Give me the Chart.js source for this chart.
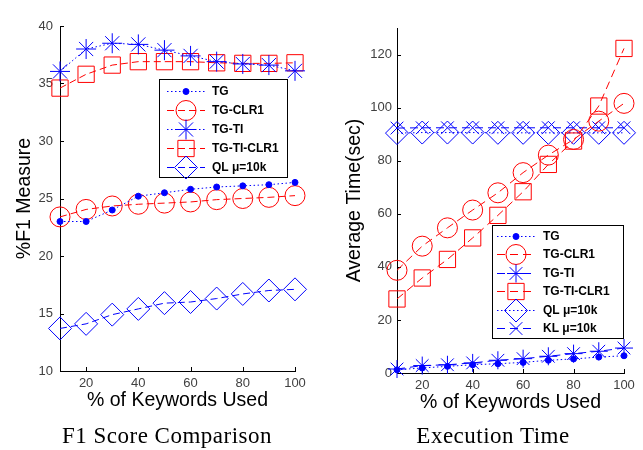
<!DOCTYPE html>
<html><head><meta charset="utf-8">
<script src="https://cdn.jsdelivr.net/npm/chart.js@4.4.1/dist/chart.umd.min.js"></script>
<style>
html,body{margin:0;padding:0;background:#fff;}
#wrap{position:relative;width:643px;height:450px;overflow:hidden;background:#fff;}
canvas{position:absolute;top:0;}
#c1{left:0}
#c2{left:321px}
.cap{position:absolute;top:424px;font-family:'Liberation Serif',serif;font-size:23px;line-height:23px;letter-spacing:0.5px;white-space:nowrap;transform:translateX(-50%);color:#000}
</style></head>
<body><div id="wrap">
<canvas id="c1" width="321" height="450"></canvas>
<canvas id="c2" width="322" height="450"></canvas>
<div class="cap" style="left:167px">F1 Score Comparison</div>
<div class="cap" style="left:493px">Execution Time</div>
</div>
<script>
// ---- data ----
const keywordsPct = [10, 20, 30, 40, 50, 60, 70, 80, 90, 100];
const xTickValues = [20, 40, 60, 80, 100];
const f1TickValues = [10, 15, 20, 25, 30, 35, 40];
const timeTickValues = [0, 20, 40, 60, 80, 100, 120];

const f1TG       = [23.0, 23.0, 24.0, 25.2, 25.5, 25.8, 26.0, 26.1, 26.2, 26.4];
const f1TGCLR1   = [23.4, 24.05, 24.35, 24.5, 24.6, 24.7, 24.9, 25.0, 25.1, 25.25];
const f1TGTI     = [36.05, 38.0, 38.5, 38.4, 37.9, 37.4, 36.9, 36.7, 36.6, 36.1];
const f1TGTICLR1 = [34.6, 35.8, 36.6, 36.9, 36.9, 36.9, 36.8, 36.75, 36.75, 36.8];
const f1QL       = [13.7, 14.1, 14.9, 15.4, 15.9, 16.0, 16.3, 16.7, 17.0, 17.1];

const timeTG       = [1.2, 1.9, 2.5, 3.1, 3.5, 4.0, 4.8, 5.3, 6.0, 6.5];
const timeTGCLR1   = [38.7, 47.8, 54.7, 61.4, 67.9, 75.5, 82.1, 88.0, 94.9, 101.6];
const timeTGTI     = [1.5, 2.8, 3.1, 3.8, 4.8, 5.4, 6.3, 7.3, 8.2, 9.4];
const timeTGTICLR1 = [27.9, 35.8, 42.8, 50.9, 59.4, 68.3, 78.6, 87.4, 100.6, 122.3];
const timeQL       = [90.4, 90.6, 90.6, 90.6, 90.5, 90.5, 90.5, 90.5, 90.5, 90.5];
const timeKL       = [92.3, 92.4, 92.4, 92.4, 92.4, 92.4, 92.4, 92.4, 92.4, 92.4];

// ---- styles ----
Chart.defaults.font.family = "'Liberation Sans', Arial, sans-serif";
const BLUE = '#0000ff', RED = '#ff0000';
const DOT = [1.5, 2.5], DASH = [7, 4], LDASH = [8, 5];

function pts(arr) { return keywordsPct.map((x, i) => ({x: x, y: arr[i]})); }
function series(label, arr, color, dash, style, radius, filled) {
  return {
    label: label, data: pts(arr), borderColor: color, borderWidth: 1, borderDash: dash,
    pointStyle: style, pointRadius: radius, pointHoverRadius: radius,
    pointBorderColor: color, pointBorderWidth: 1,
    pointBackgroundColor: filled ? color : 'rgba(0,0,0,0)',
    fill: false, tension: 0, clip: false
  };
}

function drawMarker(ctx, style, r, x, y, color, fillColor) {
  ctx.save();
  ctx.setLineDash([]);
  ctx.strokeStyle = color; ctx.fillStyle = fillColor; ctx.lineWidth = 1;
  ctx.beginPath();
  const d = r * Math.SQRT1_2;
  if (style === 'circle') { ctx.arc(x, y, r, 0, Math.PI * 2); ctx.closePath(); ctx.fill(); }
  else if (style === 'rect') { ctx.rect(x - d, y - d, 2 * d, 2 * d); ctx.fill(); }
  else if (style === 'rectRot') { ctx.moveTo(x - r, y); ctx.lineTo(x, y - r); ctx.lineTo(x + r, y); ctx.lineTo(x, y + r); ctx.closePath(); ctx.fill(); }
  else if (style === 'star') {
    ctx.moveTo(x, y - r); ctx.lineTo(x, y + r); ctx.moveTo(x - r, y); ctx.lineTo(x + r, y);
    ctx.moveTo(x - d, y - d); ctx.lineTo(x + d, y + d); ctx.moveTo(x - d, y + d); ctx.lineTo(x + d, y - d);
  } else if (style === 'crossRot') {
    ctx.moveTo(x - d, y - d); ctx.lineTo(x + d, y + d); ctx.moveTo(x - d, y + d); ctx.lineTo(x + d, y - d);
  }
  ctx.stroke();
  ctx.restore();
}

const inwardTicks = {
  id: 'inwardTicks',
  beforeDatasetsDraw(chart) {
    const ctx = chart.ctx, a = chart.chartArea, L = 4;
    ctx.save();
    ctx.strokeStyle = '#000'; ctx.lineWidth = 1;
    ctx.beginPath();
    chart.scales.x.ticks.forEach(t => {
      const px = Math.round(chart.scales.x.getPixelForValue(t.value)) + 0.5;
      ctx.moveTo(px, a.bottom); ctx.lineTo(px, a.bottom - L);
    });
    chart.scales.y.ticks.forEach(t => {
      const py = Math.round(chart.scales.y.getPixelForValue(t.value)) + 0.5;
      ctx.moveTo(a.left, py); ctx.lineTo(a.left + L, py);
    });
    ctx.stroke();
    ctx.restore();
  }
};

const boxLegend = {
  id: 'boxLegend',
  afterDraw(chart, args, o) {
    if (!o || !o.box) return;
    const ctx = chart.ctx, b = o.box;
    ctx.save();
    ctx.fillStyle = '#fff';
    ctx.fillRect(b.x, b.y, b.w, b.h);
    ctx.strokeStyle = '#000'; ctx.lineWidth = 1;
    ctx.strokeRect(b.x + 0.5, b.y + 0.5, b.w, b.h);
    chart.data.datasets.forEach((ds, i) => {
      const y = Math.round(o.rowY + i * o.rowStep) + 0.5;
      ctx.strokeStyle = ds.borderColor; ctx.lineWidth = 1;
      ctx.setLineDash(ds.borderDash || []);
      ctx.beginPath(); ctx.moveTo(o.lineX0, y); ctx.lineTo(o.lineX1, y); ctx.stroke();
      ctx.setLineDash([]);
      drawMarker(ctx, ds.pointStyle, ds.pointRadius, (o.lineX0 + o.lineX1) / 2, y, ds.pointBorderColor, ds.pointBackgroundColor);
      ctx.fillStyle = '#000';
      ctx.font = "bold 12px 'Liberation Sans', Arial, sans-serif";
      ctx.textBaseline = 'middle'; ctx.textAlign = 'left';
      ctx.fillText(ds.label, o.textX, y);
    });
    ctx.restore();
  }
};

function makeChart(id, datasets, o) {
  return new Chart(document.getElementById(id), {
    type: 'line',
    data: {datasets: datasets},
    options: {
      responsive: false, maintainAspectRatio: false, animation: false,
      events: [],
      layout: {padding: {left: 0, top: o.top, right: o.right, bottom: o.bottom}},
      plugins: {legend: {display: false}, tooltip: {enabled: false}, boxLegend: o.legend},
      scales: {
        x: {
          type: 'linear', min: 10, max: 100,
          grid: {display: false, drawTicks: false},
          border: {display: true, color: '#000', width: 1},
          afterBuildTicks: s => { s.ticks = xTickValues.map(v => ({value: v})); },
          afterFit: s => { s.height = 41; },
          ticks: {color: '#404040', font: {size: 13}, padding: 5, maxRotation: 0, autoSkip: false},
          title: {display: true, text: '% of Keywords Used', color: '#000',
                  font: {size: 19.5, lineHeight: 1.2}, padding: {top: 0, bottom: 0}}
        },
        y: {
          type: 'linear', min: o.ymin, max: o.ymax,
          grid: {display: false, drawTicks: false},
          border: {display: true, color: '#000', width: 1},
          afterBuildTicks: s => { s.ticks = o.yticks.map(v => ({value: v})); },
          afterFit: s => { s.width = o.yw; },
          ticks: {color: '#404040', font: {size: 13}, padding: o.tickPad, autoSkip: false},
          title: {display: true, text: o.ytitle, color: '#000',
                  font: {size: 19.5, lineHeight: 1.2}, padding: {top: o.titlePad, bottom: 0}}
        }
      }
    },
    plugins: [inwardTicks, boxLegend]
  });
}

makeChart('c1', [
  series('TG', f1TG, BLUE, DOT, 'circle', 3, true),
  series('TG-CLR1', f1TGCLR1, RED, DASH, 'circle', 10, false),
  series('TG-TI', f1TGTI, BLUE, DOT, 'star', 10, false),
  series('TG-TI-CLR1', f1TGTICLR1, RED, DASH, 'rect', 11.5, false),
  series('QL μ=10k', f1QL, BLUE, DASH, 'rectRot', 11.5, false)
], {
  top: 26, right: 26, bottom: 38, yw: 60, tickPad: 7, titlePad: 13,
  ymin: 10, ymax: 40, yticks: f1TickValues, ytitle: '%F1 Measure',
  legend: {box: {x: 159, y: 79, w: 128, h: 98}, rowY: 91, rowStep: 19, lineX0: 167, lineX1: 205, textX: 212}
});

makeChart('c2', [
  series('TG', timeTG, BLUE, DOT, 'circle', 3, true),
  series('TG-CLR1', timeTGCLR1, RED, LDASH, 'circle', 10, false),
  series('TG-TI', timeTGTI, BLUE, LDASH, 'star', 9, false),
  series('TG-TI-CLR1', timeTGTICLR1, RED, LDASH, 'rect', 11.5, false),
  series('QL μ=10k', timeQL, BLUE, DOT, 'rectRot', 11.5, false),
  series('KL μ=10k', timeKL, BLUE, LDASH, 'crossRot', 9, false)
], {
  top: 28, right: 19, bottom: 36, yw: 76, tickPad: 5, titlePad: 22,
  ymin: 0, ymax: 130, yticks: timeTickValues, ytitle: 'Average Time(sec)',
  legend: {box: {x: 171, y: 225, w: 131, h: 113}, rowY: 236, rowStep: 18.4, lineX0: 176, lineX1: 214, textX: 222}
});
</script></body></html>
